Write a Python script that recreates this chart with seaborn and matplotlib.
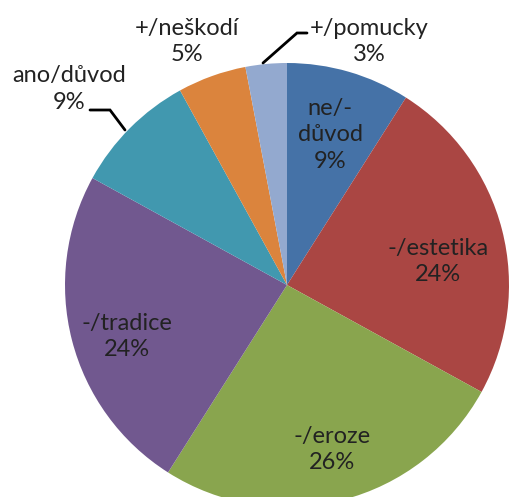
import matplotlib
matplotlib.use("Agg")
import matplotlib.pyplot as plt
import seaborn as sns

categories = ["ne/-\ndůvod", "-/estetika", "-/eroze", "-/tradice", "ano/důvod", "+/neškodí", "+/pomucky"]
values = [9, 24, 26, 24, 9, 5, 3]
colors = ["#4572A7", "#AA4643", "#89A54E", "#71588F", "#4198AF", "#DB843D", "#93A9CF"]

sns.set_style("white")
plt.rcParams["font.family"] = ["Lato", "DejaVu Sans"]

W, H = 509, 497
fig = plt.figure(figsize=(W / 100, H / 100), dpi=100)
cx, cy, R = 287, 285, 222
ax = fig.add_axes([(cx - R) / W, (H - cy - R) / H, 2 * R / W, 2 * R / H])

palette = sns.color_palette(colors)
wedges, _ = ax.pie(values, colors=palette, startangle=90, counterclock=False,
                   radius=1, wedgeprops=dict(linewidth=0))
ax.set_xlim(-1, 1)
ax.set_ylim(-1, 1)
ax.set_aspect("equal")
ax.axis("off")

# label positions (data units, radius = 1)
label_pos = [(0.194, 0.676), (0.68, 0.104), (0.203, -0.739), (-0.72, -0.23),
             (-0.982, 0.883), (-0.45, 1.095), (0.369, 1.095)]
tc = "#222222"
for cat, v, (x, y) in zip(categories, values, label_pos):
    ax.text(x, y, f"{cat}\n{v}%", ha="center", va="center", fontsize=17,
            color=tc, linespacing=1.3, clip_on=False)

def px(x, y):
    return ((x - cx) / R, (cy - y) / R)

# leader lines
for pts in ([(90, 110), (110, 110), (125, 130)], [(307, 33), (297, 33), (263, 63)]):
    d = [px(*p) for p in pts]
    ax.plot([p[0] for p in d], [p[1] for p in d], color="black", lw=2, clip_on=False,
            solid_joinstyle="miter")

fig.savefig("out.png", dpi=100)
